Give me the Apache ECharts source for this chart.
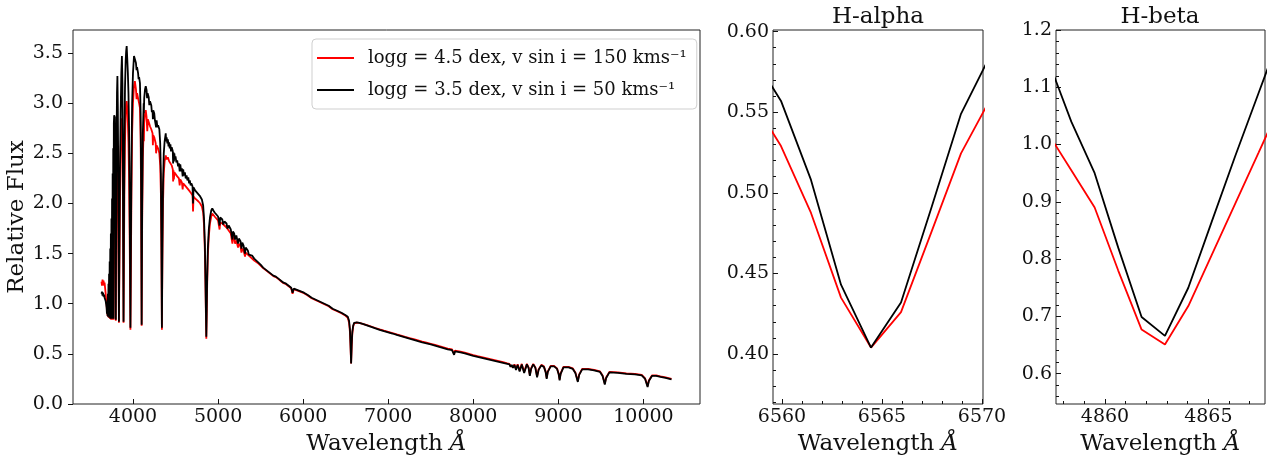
<!DOCTYPE html>
<html>
<head>
<meta charset="utf-8">
<title>Spectrum comparison</title>
<script src="https://cdn.jsdelivr.net/npm/echarts@6/dist/echarts.min.js"></script>
<style>
html, body { margin: 0; padding: 0; background: #fff; }
#chart { width: 1273px; height: 466px; }
</style>
</head>
<body>
<div id="chart"></div>
<script>
// series names
var nameRed = 'logg = 4.5 dex, v sin i = 150 kms\u207B\u00B9';
var nameBlack = 'logg = 3.5 dex, v sin i = 50 kms\u207B\u00B9';

// full spectrum, [wavelength, flux]
var specRed = [
  [3630,1.22],[3636,1.18],[3642,1.24],[3648,1.19],[3654,1.23],[3660,1.18],[3666,1.21],[3672,1.16],[3678,1.11],[3684,1.05],
  [3690,0.99],[3694,0.93],[3698,0.97],[3701,0.88],[3705,1.02],[3708,0.87],[3712,1.08],[3715,0.86],[3719,1.15],[3722,0.86],
  [3726,1.22],[3729,0.85],[3733,1.30],[3736,0.85],[3740,1.40],[3743,0.84],[3747,1.50],[3750,0.84],[3754,1.62],[3757,0.84],
  [3761,1.78],[3764,0.84],[3768,1.95],[3771,0.84],[3775,2.10],[3779,2.20],[3783,2.25],[3787,2.20],[3791,1.90],[3795,1.30],
  [3798,0.83],[3802,1.40],[3807,2.10],[3812,2.50],[3817,2.62],[3822,2.40],[3827,1.90],[3831,1.30],[3835,0.81],[3840,1.30],
  [3847,2.00],[3855,2.50],[3863,2.78],[3870,2.85],[3876,2.70],[3882,2.00],[3886,1.30],[3889,0.81],[3893,1.30],[3899,2.10],
  [3906,2.60],[3914,2.90],[3920,3.00],[3926,3.02],[3933,2.95],[3940,2.80],[3947,2.60],[3954,2.25],[3960,1.75],[3965,1.25],
  [3970,0.74],[3975,1.30],[3982,2.10],[3990,2.70],[4000,3.00],[4012,3.17],[4022,3.22],[4035,3.14],[4042,3.04],[4048,3.10],
  [4060,3.05],[4072,3.00],[4082,2.95],[4090,2.65],[4096,2.00],[4102,0.78],[4108,1.80],[4116,2.45],[4126,2.75],[4128,2.62],
  [4132,2.80],[4142,2.90],[4150,2.93],[4160,2.86],[4168,2.72],[4175,2.84],[4190,2.80],[4200,2.77],[4215,2.74],[4230,2.70],
  [4234,2.58],[4238,2.68],[4250,2.66],[4267,2.60],[4272,2.50],[4278,2.58],[4295,2.55],[4310,2.50],[4320,2.38],[4328,2.10],
  [4334,1.55],[4340,0.74],[4346,1.45],[4353,2.00],[4362,2.30],[4372,2.42],[4385,2.48],[4396,2.44],[4410,2.46],[4425,2.42],
  [4440,2.40],[4455,2.38],[4468,2.34],[4472,2.22],[4476,2.33],[4481,2.24],[4486,2.31],[4500,2.30],[4520,2.27],[4540,2.25],
  [4549,2.18],[4556,2.24],[4575,2.21],[4584,2.14],[4590,2.20],[4610,2.18],[4630,2.16],[4650,2.15],[4668,2.12],[4686,2.10],
  [4700,2.08],[4706,1.92],[4712,2.07],[4730,2.05],[4750,2.04],[4770,2.02],[4790,2.00],[4810,1.97],[4825,1.91],[4835,1.78],
  [4845,1.52],[4852,1.18],[4857,0.90],[4862,0.65],[4867,0.90],[4872,1.18],[4880,1.48],[4892,1.68],[4905,1.80],[4920,1.87],
  [4932,1.90],[4945,1.89],[4960,1.87],[4980,1.85],[5000,1.83],[5018,1.74],[5025,1.81],[5050,1.80],[5075,1.78],[5100,1.76],
  [5125,1.73],[5150,1.70],[5169,1.60],[5175,1.67],[5190,1.65],[5200,1.60],[5215,1.63],[5235,1.56],[5245,1.60],[5265,1.57],
  [5275,1.51],[5285,1.55],[5300,1.53],[5317,1.47],[5325,1.51],[5350,1.49],[5375,1.47],[5400,1.45],[5425,1.43],[5450,1.415],
  [5475,1.40],[5500,1.38],[5530,1.355],[5560,1.335],[5590,1.315],[5620,1.295],[5650,1.275],[5680,1.265],[5710,1.245],[5740,1.225],
  [5770,1.205],[5800,1.195],[5830,1.175],[5860,1.155],[5876,1.10],[5890,1.145],[5920,1.135],[5950,1.125],[5980,1.115],[6010,1.105],
  [6050,1.085],[6100,1.055],[6150,1.035],[6200,1.015],[6250,0.995],[6300,0.975],[6347,0.945],[6355,0.955],[6400,0.925],[6450,0.905],
  [6500,0.88],[6525,0.86],[6540,0.81],[6550,0.72],[6557,0.57],[6564,0.404],[6571,0.57],[6578,0.70],[6588,0.77],[6600,0.805],
  [6615,0.815],[6630,0.812],[6660,0.808],[6700,0.80],[6750,0.787],[6800,0.773],[6850,0.758],[6900,0.744],[6950,0.731],[7000,0.72],
  [7050,0.708],[7100,0.695],[7150,0.683],[7200,0.67],[7250,0.658],[7300,0.646],[7350,0.634],[7400,0.622],[7450,0.611],[7500,0.60],
  [7550,0.589],[7600,0.577],[7650,0.565],[7700,0.553],[7750,0.544],[7765,0.538],[7775,0.50],[7785,0.533],[7800,0.532],[7850,0.522],
  [7900,0.512],[7950,0.50],[8000,0.488],[8050,0.477],[8100,0.467],[8150,0.457],[8200,0.447],[8250,0.437],[8300,0.427],[8350,0.417],
  [8400,0.405],[8425,0.40],[8438,0.38],[8452,0.395],[8467,0.37],[8484,0.395],[8502,0.35],[8522,0.395],[8545,0.335],[8570,0.40],
  [8598,0.32],[8630,0.40],[8650,0.365],[8665,0.29],[8680,0.355],[8705,0.40],[8730,0.365],[8750,0.275],[8768,0.345],[8800,0.39],
  [8830,0.375],[8850,0.325],[8863,0.26],[8876,0.325],[8910,0.38],[8950,0.38],[8985,0.355],[9003,0.305],[9015,0.245],[9027,0.305],
  [9060,0.37],[9120,0.37],[9170,0.355],[9200,0.315],[9229,0.23],[9245,0.295],[9280,0.35],[9350,0.35],[9420,0.34],[9490,0.325],
  [9520,0.285],[9546,0.205],[9562,0.265],[9600,0.32],[9700,0.315],[9800,0.305],[9900,0.30],[9980,0.29],[10020,0.255],[10049,0.18],
  [10064,0.235],[10100,0.285],[10150,0.285],[10200,0.275],[10260,0.265],[10330,0.25]
];
var specBlack = [
  [3630,1.10],[3636,1.12],[3642,1.08],[3648,1.11],[3654,1.07],[3660,1.09],[3666,1.06],[3672,1.07],[3678,1.03],[3684,1.00],
  [3690,0.96],[3694,0.90],[3698,1.02],[3701,0.88],[3705,1.10],[3708,0.87],[3712,1.20],[3715,0.87],[3719,1.30],[3722,0.86],
  [3726,1.42],[3729,0.86],[3733,1.55],[3736,0.85],[3740,1.70],[3743,0.85],[3747,1.85],[3750,0.85],[3754,2.05],[3757,0.85],
  [3761,2.30],[3764,0.85],[3768,2.55],[3771,0.85],[3775,2.80],[3779,2.88],[3783,2.88],[3787,2.86],[3791,2.50],[3795,1.60],
  [3798,0.84],[3802,1.70],[3807,2.60],[3812,3.10],[3817,3.27],[3822,2.95],[3827,2.30],[3831,1.50],[3835,0.82],[3840,1.50],
  [3847,2.30],[3855,2.90],[3863,3.30],[3870,3.47],[3876,3.20],[3882,2.30],[3886,1.40],[3889,0.82],[3893,1.60],[3899,2.55],
  [3906,3.15],[3914,3.42],[3920,3.52],[3926,3.57],[3933,3.44],[3940,3.30],[3947,3.10],[3954,2.75],[3960,2.15],[3965,1.50],
  [3970,0.76],[3975,1.50],[3982,2.40],[3990,3.00],[4000,3.30],[4012,3.47],[4022,3.44],[4035,3.40],[4042,3.33],[4048,3.36],
  [4060,3.30],[4066,3.24],[4072,3.26],[4082,3.20],[4090,2.90],[4096,2.20],[4102,0.79],[4108,2.00],[4116,2.70],[4126,3.00],
  [4128,2.90],[4132,3.05],[4142,3.14],[4150,3.17],[4160,3.13],[4166,3.05],[4172,3.10],[4185,3.06],[4192,2.98],[4200,3.02],
  [4215,2.98],[4222,2.91],[4230,2.93],[4234,2.84],[4238,2.93],[4250,2.90],[4258,2.83],[4267,2.84],[4272,2.76],[4278,2.83],
  [4287,2.76],[4295,2.78],[4310,2.74],[4320,2.60],[4328,2.30],[4334,1.70],[4340,0.76],[4346,1.60],[4353,2.20],[4362,2.50],
  [4372,2.62],[4385,2.70],[4390,2.62],[4396,2.66],[4404,2.60],[4410,2.64],[4418,2.57],[4425,2.61],[4432,2.55],[4440,2.59],
  [4447,2.52],[4455,2.56],[4468,2.52],[4472,2.40],[4476,2.51],[4481,2.42],[4486,2.50],[4493,2.44],[4500,2.47],[4510,2.41],
  [4520,2.43],[4530,2.37],[4540,2.40],[4549,2.32],[4556,2.39],[4566,2.32],[4575,2.35],[4584,2.27],[4590,2.34],[4600,2.28],
  [4610,2.31],[4620,2.25],[4630,2.28],[4640,2.23],[4650,2.26],[4660,2.20],[4668,2.23],[4678,2.18],[4686,2.20],[4700,2.17],
  [4706,2.00],[4712,2.16],[4730,2.13],[4750,2.11],[4770,2.09],[4790,2.07],[4810,2.04],[4825,1.98],[4835,1.85],[4845,1.60],
  [4852,1.25],[4857,0.95],[4862,0.67],[4867,0.95],[4872,1.25],[4880,1.55],[4892,1.75],[4905,1.86],[4920,1.93],[4932,1.95],
  [4945,1.93],[4960,1.91],[4980,1.89],[5000,1.87],[5018,1.78],[5025,1.86],[5050,1.84],[5060,1.79],[5075,1.82],[5100,1.80],
  [5110,1.75],[5125,1.78],[5150,1.74],[5169,1.64],[5175,1.72],[5190,1.70],[5200,1.64],[5215,1.68],[5235,1.60],[5245,1.65],
  [5265,1.62],[5275,1.55],[5285,1.61],[5300,1.58],[5317,1.50],[5325,1.56],[5350,1.53],[5362,1.49],[5375,1.50],[5400,1.48],
  [5425,1.45],[5450,1.43],[5475,1.41],[5500,1.39],[5530,1.36],[5560,1.34],[5590,1.32],[5620,1.30],[5650,1.28],[5680,1.27],
  [5710,1.25],[5740,1.23],[5770,1.21],[5800,1.20],[5830,1.18],[5860,1.16],[5876,1.11],[5890,1.15],[5920,1.14],[5950,1.13],
  [5980,1.12],[6010,1.11],[6050,1.09],[6100,1.06],[6150,1.04],[6200,1.02],[6250,1.00],[6300,0.98],[6347,0.95],[6355,0.96],
  [6400,0.93],[6450,0.91],[6500,0.885],[6525,0.87],[6540,0.83],[6550,0.75],[6557,0.60],[6564,0.404],[6571,0.60],[6578,0.72],
  [6588,0.78],[6600,0.81],[6615,0.82],[6630,0.815],[6660,0.81],[6700,0.80],[6750,0.785],[6800,0.77],[6850,0.755],[6900,0.74],
  [6950,0.727],[7000,0.715],[7050,0.703],[7100,0.69],[7150,0.678],[7200,0.665],[7250,0.652],[7300,0.64],[7350,0.628],[7400,0.615],
  [7450,0.605],[7500,0.595],[7550,0.583],[7600,0.57],[7650,0.558],[7700,0.545],[7750,0.537],[7765,0.53],[7775,0.49],[7785,0.525],
  [7800,0.525],[7850,0.515],[7900,0.505],[7950,0.493],[8000,0.48],[8050,0.47],[8100,0.46],[8150,0.45],[8200,0.44],[8250,0.43],
  [8300,0.42],[8350,0.41],[8400,0.40],[8425,0.395],[8438,0.37],[8452,0.39],[8467,0.36],[8484,0.39],[8502,0.34],[8522,0.39],
  [8545,0.325],[8570,0.395],[8598,0.31],[8630,0.395],[8650,0.36],[8665,0.28],[8680,0.35],[8705,0.395],[8730,0.36],[8750,0.265],
  [8768,0.34],[8800,0.385],[8830,0.37],[8850,0.32],[8863,0.25],[8876,0.32],[8910,0.375],[8950,0.375],[8985,0.35],[9003,0.30],
  [9015,0.235],[9027,0.30],[9060,0.365],[9120,0.365],[9170,0.35],[9200,0.31],[9229,0.22],[9245,0.29],[9280,0.345],[9350,0.345],
  [9420,0.335],[9490,0.32],[9520,0.28],[9546,0.195],[9562,0.26],[9600,0.315],[9700,0.31],[9800,0.30],[9900,0.295],[9980,0.285],
  [10020,0.25],[10049,0.17],[10064,0.23],[10100,0.28],[10150,0.28],[10200,0.27],[10260,0.26],[10330,0.245]
];

// H-alpha zoom
var haWave = [6558.45, 6559.95, 6561.45, 6562.95, 6564.45, 6565.95, 6567.45, 6568.95, 6570.45];
var haRed = [0.559, 0.529, 0.4875, 0.435, 0.404, 0.426, 0.475, 0.5245, 0.559];
var haBlack = [0.587, 0.557, 0.508, 0.443, 0.404, 0.432, 0.490, 0.549, 0.586];

// H-beta zoom
var hbWave = [4857.24, 4858.37, 4859.50, 4860.64, 4861.77, 4862.90, 4864.03, 4865.16, 4866.30, 4867.43, 4868.56];
var hbRed = [1.02, 0.955, 0.89, 0.78, 0.677, 0.651, 0.718, 0.807, 0.897, 0.986, 1.075];
var hbBlack = [1.148, 1.04, 0.95, 0.82, 0.699, 0.666, 0.750, 0.865, 0.98, 1.09, 1.20];

// ticks
var mainXTicks = [4000, 5000, 6000, 7000, 8000, 9000, 10000];
var mainYTicks = [0, 0.5, 1, 1.5, 2, 2.5, 3, 3.5];
var haXTicks = [6560, 6565, 6570];
var haXMinor = [6561, 6562, 6563, 6564, 6566, 6567, 6568, 6569];
var haYTicks = [0.40, 0.45, 0.50, 0.55, 0.60];
var haYMinor = [0.37, 0.38, 0.39, 0.41, 0.42, 0.43, 0.44, 0.46, 0.47, 0.48, 0.49,
                0.51, 0.52, 0.53, 0.54, 0.56, 0.57, 0.58, 0.59];
var hbXTicks = [4860, 4865];
var hbXMinor = [4858, 4859, 4861, 4862, 4863, 4864, 4866, 4867];
var hbYTicks = [0.6, 0.7, 0.8, 0.9, 1.0, 1.1, 1.2];
var hbYMinor = [0.56, 0.58, 0.62, 0.64, 0.66, 0.68, 0.72, 0.74, 0.76, 0.78, 0.82, 0.84, 0.86, 0.88,
                0.92, 0.94, 0.96, 0.98, 1.02, 1.04, 1.06, 1.08, 1.12, 1.14, 1.16, 1.18];

var FONT = 'DejaVu Serif';
var INK = '#111';

function zip(xs, ys) {
    var out = [];
    for (var i = 0; i < xs.length; i++) out.push([xs[i], ys[i]]);
    return out;
}

// major axis with labels
function majorX(grid, min, max, ticks) {
    return {
        type: 'value', gridIndex: grid, position: 'bottom', min: min, max: max,
        name: 'Wavelength {it|\u00C5}', nameLocation: 'middle', nameGap: 29,
        nameTextStyle: { fontFamily: FONT, fontSize: 23, color: INK,
            rich: { it: { fontFamily: FONT, fontSize: 23, fontStyle: 'italic', color: INK } } },
        axisLine: { show: false },
        axisTick: { show: true, inside: true, length: 5, customValues: ticks, lineStyle: { color: INK } },
        axisLabel: { customValues: ticks, margin: 4, fontFamily: FONT, fontSize: 19, color: INK,
            formatter: function (v) { return String(v); } },
        splitLine: { show: false }
    };
}
function majorY(grid, min, max, ticks, digits, inside) {
    return {
        type: 'value', gridIndex: grid, position: 'left', min: min, max: max,
        axisLine: { show: false },
        axisTick: { show: true, inside: inside, length: 5, customValues: ticks, lineStyle: { color: INK } },
        axisLabel: { customValues: ticks, margin: inside ? 4 : 10, fontFamily: FONT, fontSize: 19, color: INK,
            formatter: function (v) { return v.toFixed(digits); } },
        splitLine: { show: false }
    };
}
// minor ticks only
function minorAxis(grid, min, max, ticks, pos) {
    return {
        type: 'value', gridIndex: grid, position: pos, min: min, max: max,
        axisLine: { show: false },
        axisTick: { show: true, inside: true, length: 3, customValues: ticks, lineStyle: { color: INK } },
        axisLabel: { show: false },
        splitLine: { show: false }
    };
}

var chart = echarts.init(document.getElementById('chart'));

var gridStyle = { show: true, borderColor: '#222', borderWidth: 1, backgroundColor: 'transparent' };

var mainY = majorY(0, 0, 3.73, mainYTicks, 1, false);
mainY.name = 'Relative Flux';
mainY.nameLocation = 'middle';
mainY.nameGap = 38;
mainY.nameTextStyle = { fontFamily: FONT, fontSize: 23, color: INK };

var option = {
    animation: false,
    backgroundColor: '#fff',
    grid: [
        Object.assign({ left: 73, top: 30, width: 627, height: 374 }, gridStyle),
        Object.assign({ left: 773, top: 30, width: 210, height: 374 }, gridStyle),
        Object.assign({ left: 1056, top: 30, width: 209, height: 374 }, gridStyle)
    ],
    xAxis: [
        majorX(0, 3295, 10665, mainXTicks),
        majorX(1, 6559.55, 6570.05, haXTicks),
        minorAxis(1, 6559.55, 6570.05, haXMinor, 'bottom'),
        majorX(2, 4857.63, 4867.74, hbXTicks),
        minorAxis(2, 4857.63, 4867.74, hbXMinor, 'bottom')
    ],
    yAxis: [
        mainY,
        majorY(1, 0.369, 0.601, haYTicks, 2, true),
        minorAxis(1, 0.369, 0.601, haYMinor, 'left'),
        majorY(2, 0.547, 1.2, hbYTicks, 1, true),
        minorAxis(2, 0.547, 1.2, hbYMinor, 'left')
    ],
    legend: {
        orient: 'vertical', left: 312, top: 39,
        data: [nameRed, nameBlack],
        icon: 'rect', itemWidth: 37, itemHeight: 2, itemGap: 12,
        padding: [9, 10, 9, 5],
        backgroundColor: 'rgba(255,255,255,0.8)',
        borderColor: '#cfcfcf', borderWidth: 1, borderRadius: 4,
        selectedMode: false,
        textStyle: { fontFamily: FONT, fontSize: 18, color: INK, lineHeight: 20, padding: [0, 0, 0, 9] }
    },
    graphic: [
        { type: 'text', x: 878, y: 17, style: { text: 'H-alpha', fontFamily: FONT, fontSize: 23, fill: INK, align: 'center', verticalAlign: 'middle' } },
        { type: 'text', x: 1160, y: 17, style: { text: 'H-beta', fontFamily: FONT, fontSize: 23, fill: INK, align: 'center', verticalAlign: 'middle' } }
    ],
    series: [
        { name: nameRed, type: 'line', xAxisIndex: 0, yAxisIndex: 0, data: specRed, showSymbol: false, symbol: 'none',
          lineStyle: { color: '#ff0000', width: 1.8 }, itemStyle: { color: '#ff0000' } },
        { name: nameBlack, type: 'line', xAxisIndex: 0, yAxisIndex: 0, data: specBlack, showSymbol: false, symbol: 'none',
          lineStyle: { color: '#000', width: 1.8 }, itemStyle: { color: '#000' } },
        { name: nameRed, type: 'line', xAxisIndex: 1, yAxisIndex: 1, data: zip(haWave, haRed), symbol: 'none',
          lineStyle: { color: '#ff0000', width: 1.8 }, itemStyle: { color: '#ff0000' } },
        { name: nameBlack, type: 'line', xAxisIndex: 1, yAxisIndex: 1, data: zip(haWave, haBlack), symbol: 'none',
          lineStyle: { color: '#000', width: 1.8 }, itemStyle: { color: '#000' } },
        { name: nameRed, type: 'line', xAxisIndex: 3, yAxisIndex: 3, data: zip(hbWave, hbRed), symbol: 'none',
          lineStyle: { color: '#ff0000', width: 1.8 }, itemStyle: { color: '#ff0000' } },
        { name: nameBlack, type: 'line', xAxisIndex: 3, yAxisIndex: 3, data: zip(hbWave, hbBlack), symbol: 'none',
          lineStyle: { color: '#000', width: 1.8 }, itemStyle: { color: '#000' } }
    ]
};

chart.setOption(option);
</script>
</body>
</html>
